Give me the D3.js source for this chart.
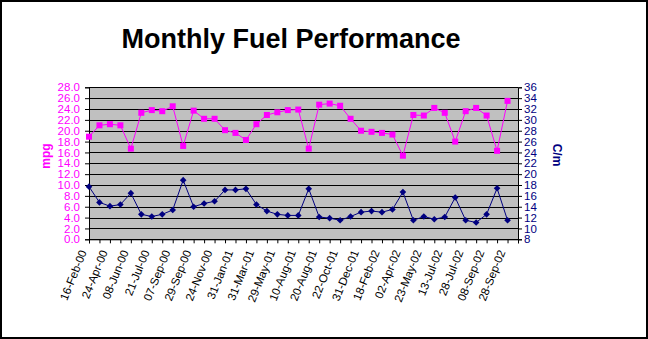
<!DOCTYPE html>
<html><head><meta charset="utf-8">
<script src="https://cdn.jsdelivr.net/npm/d3@7"></script>
<style>
html,body{margin:0;padding:0;background:#fff;}
svg{display:block;font-family:"Liberation Sans",Arial,sans-serif;}
</style></head>
<body>
<svg id="chart" width="648" height="339"></svg>
<script>
// Date labels (shown on every second point)
const dateLabels = ["16-Feb-00","24-Apr-00","08-Jun-00","21-Jul-00","07-Sep-00","29-Sep-00","24-Nov-00","31-Jan-01","31-Mar-01","29-May-01","10-Aug-01","20-Aug-01","22-Oct-01","31-Dec-01","18-Feb-02","02-Apr-02","23-May-02","13-Jul-02","28-Jul-02","08-Sep-02","28-Sep-02"];
// mpg series (left axis)
const mpg = [18.9,21.0,21.2,21.0,16.7,23.3,23.8,23.6,24.5,17.2,23.7,22.2,22.2,20.1,19.6,18.3,21.2,22.9,23.4,23.8,23.9,16.7,24.8,25.0,24.6,22.2,20.0,19.8,19.6,19.3,15.4,22.9,22.8,24.2,23.3,18.0,23.6,24.2,22.8,16.3,25.5];
// C/m series (right axis)
const cpm = [17.7,14.8,14.1,14.4,16.5,12.6,12.2,12.6,13.4,18.9,14.0,14.6,15.0,17.1,17.1,17.3,14.4,13.2,12.6,12.4,12.4,17.3,12.1,11.9,11.5,12.2,13.0,13.2,13.0,13.5,16.7,11.5,12.2,11.7,12.1,15.7,11.5,11.1,12.6,17.4,11.5];
const leftTicks = d3.range(0, 28.01, 2);
const rightTicks = d3.range(8, 36.01, 2);

const svg = d3.select("#chart");
const L = 89, R = 518, T = 87.3, B = 239.3;
const PINK = "#FF00FF", NAVY = "#000080";

svg.append("rect").attr("x",1).attr("y",1).attr("width",646).attr("height",337)
  .attr("fill","#fff").attr("stroke","#000").attr("stroke-width",2);

const x = d3.scaleLinear().domain([0, mpg.length]).range([L, R]);
const yL = d3.scaleLinear().domain([0, 28]).range([B, T]);
const yR = d3.scaleLinear().domain([8, 36]).range([B, T]);

// plot area
svg.append("rect").attr("x",L).attr("y",T).attr("width",R-L).attr("height",B-T).attr("fill","#C0C0C0");

// gridlines
svg.append("g").selectAll("line").data(leftTicks).join("line")
  .attr("x1",L).attr("x2",R)
  .attr("y1",d=>Math.round(yL(d))+0.5).attr("y2",d=>Math.round(yL(d))+0.5)
  .attr("stroke","#000").attr("stroke-width",1);

// left axis
const gL = svg.append("g").attr("transform",`translate(${L},0)`)
  .call(d3.axisLeft(yL).tickValues(leftTicks).tickSize(4).tickPadding(5).tickFormat(d3.format(".1f")));
gL.selectAll("text").attr("fill",PINK).style("font-size","11.5px").style("font-family","'Liberation Sans',Arial,sans-serif");
gL.selectAll("line,path").attr("stroke","#000");

// right axis
const gR = svg.append("g").attr("transform",`translate(${R},0)`)
  .call(d3.axisRight(yR).tickValues(rightTicks).tickSize(4).tickPadding(2).tickFormat(d3.format("d")));
gR.selectAll("text").attr("fill",NAVY).style("font-size","11.5px").style("font-family","'Liberation Sans',Arial,sans-serif");
gR.selectAll("line,path").attr("stroke","#000");

// bottom axis
const idx = d3.range(0, mpg.length + 1);
const gB = svg.append("g").attr("transform",`translate(0,${B})`)
  .call(d3.axisBottom(x).tickValues(idx).tickSize(4).tickFormat(""));
gB.selectAll("line,path").attr("stroke","#000");

// date labels
svg.append("g").selectAll("text").data(dateLabels).join("text")
  .attr("transform",(d,i)=>`translate(${x(i*2)-2},252) rotate(-68)`)
  .attr("text-anchor","end")
  .attr("font-size","11.5px")
  .attr("fill","#000")
  .text(d=>d);

// lines
const lineL = d3.line().x((d,i)=>x(i)).y(d=>yL(d));
const lineR = d3.line().x((d,i)=>x(i)).y(d=>yR(d));
svg.append("path").datum(mpg).attr("d",lineL).attr("fill","none").attr("stroke",PINK).attr("stroke-width",1);
svg.append("path").datum(cpm).attr("d",lineR).attr("fill","none").attr("stroke",NAVY).attr("stroke-width",1);

// markers
svg.append("g").selectAll("rect").data(mpg).join("rect")
  .attr("x",(d,i)=>x(i)-3).attr("y",d=>yL(d)-3).attr("width",6).attr("height",6)
  .attr("fill",PINK);
svg.append("g").selectAll("path").data(cpm).join("path")
  .attr("d",d3.symbol().type(d3.symbolDiamond2).size(28))
  .attr("transform",(d,i)=>`translate(${x(i)},${yR(d)})`)
  .attr("fill",NAVY);

// title
svg.append("text").attr("x",291).attr("y",48).attr("text-anchor","middle")
  .attr("font-size","27px").attr("font-weight","bold").attr("fill","#000")
  .text("Monthly Fuel Performance");

// axis titles
svg.append("text").attr("transform","translate(50,156) rotate(-90)").attr("text-anchor","middle")
  .attr("font-size","12px").attr("font-weight","bold").attr("fill",PINK).text("mpg");
svg.append("text").attr("transform","translate(553,155) rotate(90)").attr("text-anchor","middle")
  .attr("font-size","12px").attr("font-weight","bold").attr("fill",NAVY).text("C/m");
</script>
</body></html>
